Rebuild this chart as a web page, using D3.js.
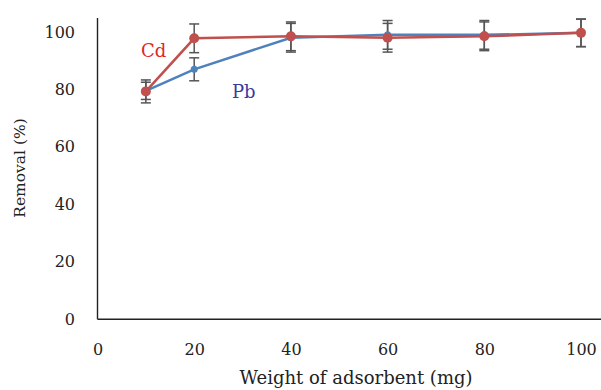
<!DOCTYPE html>
<html><head><meta charset="utf-8">
<script src="https://cdn.jsdelivr.net/npm/d3@7"></script>
<style>body{margin:0;background:#fff}svg{display:block}text{font-family:"DejaVu Serif","Liberation Serif",serif}</style>
</head><body>
<svg id="c" width="601" height="390"></svg>
<script>
const xValues = [10, 20, 40, 60, 80, 100];
const pbValues = [79.5, 87, 98, 99, 99, 99.7];
const pbErrors = [3, 4, 5, 5, 5, 4.8];
const cdValues = [79.3, 97.8, 98.5, 98, 98.5, 99.7];
const cdErrors = [4, 5, 5, 5, 5, 4.8];
const xTicks = [0, 20, 40, 60, 80, 100];
const yTicks = [0, 20, 40, 60, 80, 100];

const svg = d3.select("#c");
const x = d3.scaleLinear().domain([0, 100]).range([97.5, 581]);
const y = d3.scaleLinear().domain([0, 100]).range([319, 32]);

svg.append("line").attr("x1", 97.5).attr("x2", 601).attr("y1", 319.3).attr("y2", 319.3).attr("stroke", "#222").attr("stroke-width", 1.4);
svg.append("line").attr("x1", 97.5).attr("x2", 97.5).attr("y1", 18).attr("y2", 319.3).attr("stroke", "#222").attr("stroke-width", 1.4);

const xAxis = d3.axisBottom(x).tickValues(xTicks).tickSize(0).tickPadding(0);
svg.append("g").attr("transform", "translate(0,349)").call(xAxis)
  .call(g => g.select(".domain").remove())
  .selectAll("text").attr("font-size", 16).attr("fill", "#222").attr("font-family", "DejaVu Serif, serif").attr("dy", "0.35em");
const yAxis = d3.axisLeft(y).tickValues(yTicks).tickSize(0).tickPadding(0);
svg.append("g").attr("transform", "translate(75,0)").call(yAxis)
  .call(g => g.select(".domain").remove())
  .selectAll("text").attr("font-size", 16).attr("fill", "#222").attr("font-family", "DejaVu Serif, serif");

svg.append("text").attr("x", 356).attr("y", 384).attr("text-anchor", "middle").attr("font-size", 18).attr("fill", "#222").text("Weight of adsorbent (mg)");
svg.append("text").attr("transform", "translate(25,168) rotate(-90)").attr("text-anchor", "middle").attr("font-size", 15.5).attr("fill", "#222").text("Removal (%)");

function series(vals, errs) {
  const data = xValues.map((d, i) => ({x: d, y: vals[i], e: errs[i]}));
  const g = svg.append("g");
  g.selectAll("line.eb").data(data).join("line").attr("x1", d => x(d.x)).attr("x2", d => x(d.x))
    .attr("y1", d => y(d.y - d.e)).attr("y2", d => y(d.y + d.e)).attr("stroke", "#555").attr("stroke-width", 1.5);
  g.selectAll("line.cu").data(data).join("line").attr("x1", d => x(d.x) - 5).attr("x2", d => x(d.x) + 5)
    .attr("y1", d => y(d.y + d.e)).attr("y2", d => y(d.y + d.e)).attr("stroke", "#555").attr("stroke-width", 1.5);
  g.selectAll("line.cl").data(data).join("line").attr("x1", d => x(d.x) - 5).attr("x2", d => x(d.x) + 5)
    .attr("y1", d => y(d.y - d.e)).attr("y2", d => y(d.y - d.e)).attr("stroke", "#555").attr("stroke-width", 1.5);
  return data;
}
const pb = series(pbValues, pbErrors);
const cd = series(cdValues, cdErrors);
const line = d3.line().x(d => x(d.x)).y(d => y(d.y));
svg.append("path").datum(pb).attr("d", line).attr("fill", "none").attr("stroke", "#4f81bd").attr("stroke-width", 2.5);
svg.selectAll("circle.pb").data(pb).join("circle").attr("class", "pb").attr("cx", d => x(d.x)).attr("cy", d => y(d.y)).attr("r", 3.5).attr("fill", "#4f81bd");
svg.append("path").datum(cd).attr("d", line).attr("fill", "none").attr("stroke", "#c0504d").attr("stroke-width", 2.5);
svg.selectAll("circle.cd").data(cd).join("circle").attr("class", "cd").attr("cx", d => x(d.x)).attr("cy", d => y(d.y)).attr("r", 5).attr("fill", "#c0504d");

svg.append("text").attr("x", 141).attr("y", 57).attr("font-size", 18).attr("fill", "#e0262a").text("Cd");
svg.append("text").attr("x", 232).attr("y", 98).attr("font-size", 18).attr("fill", "#3a3a9c").text("Pb");
</script>
</body></html>
